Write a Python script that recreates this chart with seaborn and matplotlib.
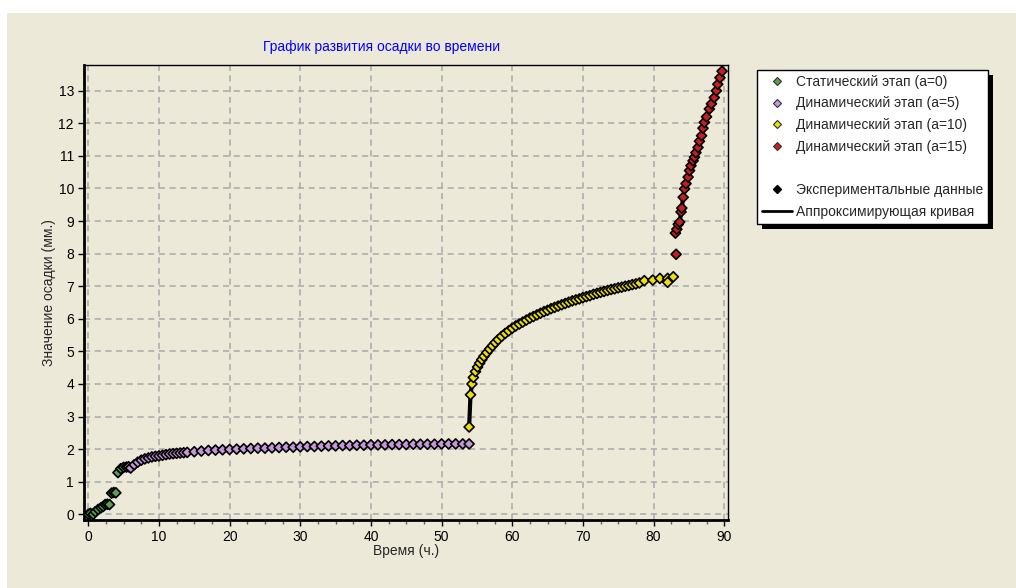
import pandas as pd
import seaborn as sns
import matplotlib.pyplot as plt
from matplotlib.lines import Line2D
from matplotlib.patches import Rectangle
from matplotlib.ticker import MultipleLocator

# статический этап (a=0)
t_static = [0.0, 0.3, 0.7, 1.0, 1.4, 1.8, 2.1, 2.4, 2.7, 3.0, 3.3, 3.6, 3.9, 4.2, 4.6, 5.0, 5.4, 5.7]
s_static = [0.0, 0.03, 0.0, 0.08, 0.15, 0.2, 0.24, 0.3, 0.31, 0.3, 0.65, 0.67, 0.66, 1.28, 1.4, 1.44, 1.45, 1.46]

# динамический этап (a=5)
t_dyn5 = [6.0, 6.5, 7.0, 7.5, 8.0, 8.5, 9.0, 9.5, 10.0, 10.5, 11.0, 11.5, 12.0, 12.5, 13.0,
          13.5, 14.0, 15.0, 16.0, 17.0, 18.0, 19.0, 20.0, 21.0, 22.0, 23.0, 24.0, 25.0, 26.0,
          27.0, 28.0, 29.0, 30.0, 31.0, 32.0, 33.0, 34.0, 35.0, 36.0, 37.0, 38.0, 39.0, 40.0,
          41.0, 42.0, 43.0, 44.0, 45.0, 46.0, 47.0, 48.0, 49.0, 50.0, 51.0, 52.0, 53.0, 53.9]
s_dyn5 = [1.42, 1.52, 1.6, 1.66, 1.7, 1.73, 1.76, 1.78, 1.79, 1.81, 1.83, 1.85, 1.86, 1.87, 1.88,
          1.89, 1.9, 1.92, 1.94, 1.96, 1.97, 1.98, 1.99, 2.0, 2.01, 2.02, 2.03, 2.03, 2.04,
          2.05, 2.06, 2.06, 2.07, 2.08, 2.08, 2.09, 2.1, 2.1, 2.11, 2.11, 2.12, 2.12, 2.13,
          2.13, 2.13, 2.14, 2.14, 2.14, 2.15, 2.15, 2.15, 2.15, 2.16, 2.16, 2.16, 2.16, 2.16]

# динамический этап (a=10)
t_dyn10 = [53.9, 54.1, 54.3, 54.5, 54.8, 55.1, 55.4, 55.7, 56.0, 56.4, 56.8, 57.2, 57.6, 58.0,
           58.5, 59.0, 59.5, 60.0, 60.5, 61.0, 61.5, 62.0, 62.5, 63.0, 63.5, 64.0, 64.5, 65.0,
           65.5, 66.0, 66.5, 67.0, 67.5, 68.0, 68.5, 69.0, 69.5, 70.0, 70.5, 71.0, 71.5, 72.0,
           72.5, 73.0, 73.5, 74.0, 74.5, 75.0, 75.5, 76.0, 76.5, 77.0, 77.5, 78.0,
           78.7, 79.9, 80.9, 82.0, 82.0, 82.8]
s_dyn10 = [2.68, 3.67, 4.0, 4.2, 4.38, 4.52, 4.64, 4.75, 4.85, 4.96, 5.07, 5.17, 5.27, 5.36,
           5.46, 5.55, 5.63, 5.71, 5.78, 5.84, 5.9, 5.96, 6.02, 6.07, 6.12, 6.17, 6.22, 6.26,
           6.31, 6.35, 6.39, 6.43, 6.47, 6.51, 6.55, 6.58, 6.61, 6.65, 6.68, 6.71, 6.75, 6.78,
           6.81, 6.84, 6.87, 6.9, 6.92, 6.95, 6.97, 7.0, 7.02, 7.05, 7.07, 7.1,
           7.17, 7.19, 7.24, 7.24, 7.12, 7.29]
n_curve10 = 54  # сколько точек этапа a=10 лежит на кривой

# динамический этап (a=15)
t_dyn15 = [83.2, 83.1, 83.3, 83.5, 83.7, 83.9, 84.0, 84.2, 84.4, 84.6, 84.9, 85.1, 85.3, 85.6,
           85.8, 86.0, 86.3, 86.5, 86.8, 87.0, 87.2, 87.5, 87.9, 88.2, 88.6, 88.9, 89.1, 89.4, 89.7]
s_dyn15 = [7.98, 8.63, 8.75, 8.9, 8.97, 9.28, 9.4, 9.73, 9.99, 10.15, 10.35, 10.55, 10.7, 10.85,
           10.96, 11.1, 11.26, 11.45, 11.62, 11.85, 12.03, 12.2, 12.44, 12.6, 12.79, 13.0, 13.2, 13.4, 13.6]

stages = ['Статический этап (а=0)', 'Динамический этап (а=5)',
          'Динамический этап (а=10)', 'Динамический этап (а=15)']
colors = ['#5E9F4F', '#C896DC', '#EEE000', '#C81E1E']

df = pd.concat([
    pd.DataFrame({'t': t_static, 's': s_static, 'stage': stages[0]}),
    pd.DataFrame({'t': t_dyn5, 's': s_dyn5, 'stage': stages[1]}),
    pd.DataFrame({'t': t_dyn10, 's': s_dyn10, 'stage': stages[2]}),
    pd.DataFrame({'t': t_dyn15, 's': s_dyn15, 'stage': stages[3]}),
], ignore_index=True)

sns.set_style('ticks')
plt.rcParams['font.family'] = ['Liberation Sans', 'DejaVu Sans']
plt.rcParams['font.size'] = 10

bg = '#ECE9D8'
fig = plt.figure(figsize=(10.16, 5.88), dpi=100, facecolor=bg)
# белые поля сверху и слева
fig.add_artist(Rectangle((0, 1 - 13 / 588), 1, 13 / 588, transform=fig.transFigure,
                         facecolor='white', edgecolor='none', zorder=0))
fig.add_artist(Rectangle((0, 0), 7 / 1016, 1, transform=fig.transFigure,
                         facecolor='white', edgecolor='none', zorder=0))

ax = fig.add_axes([83.7 / 1016, 1 - 520 / 588, 644 / 1016, 455 / 588])
ax.set_facecolor(bg)

# аппроксимирующая кривая
for tx, sy in [(t_dyn5, s_dyn5), (t_dyn10[:n_curve10], s_dyn10[:n_curve10]), (t_dyn15[1:], s_dyn15[1:])]:
    sns.lineplot(x=tx, y=sy, color='black', linewidth=3.0, estimator=None, sort=False, ax=ax, zorder=2)

sns.scatterplot(data=df, x='t', y='s', hue='stage', palette=dict(zip(stages, colors)),
                marker='D', s=26, edgecolor='black', linewidth=1.2, legend=False, ax=ax, zorder=3)

ax.set_xlim(-0.65, 90.5)
ax.set_ylim(-0.175, 13.79)
ax.xaxis.set_major_locator(MultipleLocator(10))
ax.xaxis.set_minor_locator(MultipleLocator(2.5))
ax.yaxis.set_major_locator(MultipleLocator(1))
ax.grid(True, which='major', color='#A8A8A8', linestyle=(0, (4, 3)), linewidth=1.1)
ax.set_axisbelow(True)
ax.tick_params(which='major', direction='out', length=4, width=1, colors='black', labelsize=10, pad=3)
ax.tick_params(which='minor', axis='x', direction='out', length=3, width=1, colors='#606060')
for side in ['left', 'bottom']:
    ax.spines[side].set_linewidth(2.0)
for side in ['top', 'right']:
    ax.spines[side].set_linewidth(1.0)
for sp in ax.spines.values():
    sp.set_color('black')

ax.set_xlabel('Время (ч.)', labelpad=0)
ax.set_ylabel('Значение осадки (мм.)', labelpad=2)
fig.text(382 / 1016, 1 - 47 / 588, 'График развития осадки во времени', color='#0000FF',
         ha='center', va='center', fontsize=10)

handles = [Line2D([], [], marker='D', ls='none', mfc=c, mec='#303030', mew=0.8, ms=4.5) for c in colors]
handles.append(Line2D([], [], ls='none'))
handles.append(Line2D([], [], marker='D', ls='none', color='black', ms=4.5))
handles.append(Line2D([], [], color='black', lw=2))
labels = stages + [' ', 'Экспериментальные данные', 'Аппроксимирующая кривая']

leg = fig.legend(handles, labels, loc='upper left', bbox_to_anchor=(757 / 1016, 1 - 70 / 588),
                 frameon=True, fancybox=False, edgecolor='black', facecolor='white', framealpha=1,
                 borderpad=0.35, labelspacing=0.55, handlelength=2.2, handletextpad=0.25,
                 borderaxespad=0, fontsize=10)
leg.get_frame().set_linewidth(1.0)

# тень легенды
fig.canvas.draw()
bb = leg.get_window_extent()
x0, y0 = fig.transFigure.inverted().transform((bb.x0 + 5, bb.y0 - 5))
x1, y1 = fig.transFigure.inverted().transform((bb.x1 + 5, bb.y1 - 5))
fig.add_artist(Rectangle((x0, y0), x1 - x0, y1 - y0, transform=fig.transFigure,
                         facecolor='black', edgecolor='none', zorder=4))

plt.savefig('out.png', dpi=100, facecolor=bg)
